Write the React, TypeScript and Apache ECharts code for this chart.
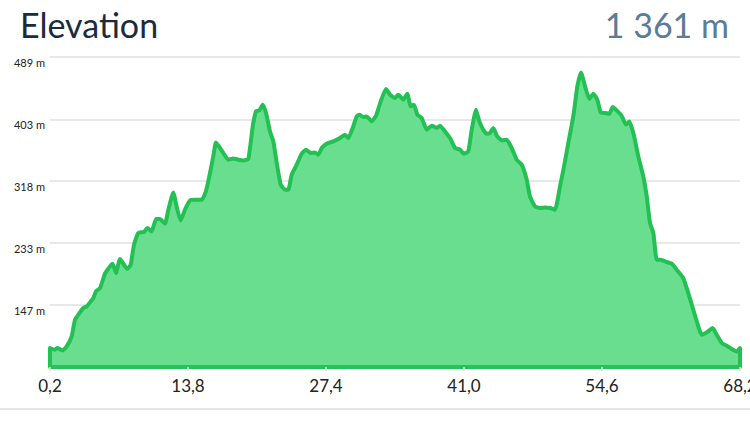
import React, { useEffect, useRef } from "react";
import * as echarts from "echarts";

const titleText = "Elevation";
const totalText = "1 361 m";

const distanceKm = [
  0.2, 0.2, 0.69, 0.92, 1.45, 1.85, 2.34, 2.66, 2.99, 3.48, 3.82, 4.14, 4.47, 4.73, 5.13, 5.62, 6.11, 6.38, 6.7, 7.1,
  7.82, 8.15, 8.48, 8.9, 9.46, 9.79, 10.22, 10.65, 11.04, 11.53, 11.86, 12.35, 12.75, 13.08, 13.5, 14.0, 14.49, 15.15,
  15.57, 15.97, 16.29, 16.56, 17.12, 17.77, 18.26, 18.76, 19.25, 19.74, 20.18, 20.5, 20.83, 21.16, 21.49, 21.88, 22.21,
  22.6, 22.94, 23.36, 23.68, 24.02, 24.51, 25.0, 25.43, 25.89, 26.32, 26.64, 26.98, 27.47, 28.12, 28.78, 29.27, 29.6,
  30.03, 30.43, 30.68, 31.08, 31.41, 31.9, 32.33, 32.79, 33.31, 33.71, 34.2, 34.53, 35.02, 35.41, 35.75, 36.07, 36.4,
  36.83, 37.32, 37.82, 38.31, 38.64, 39.13, 39.62, 40.11, 40.61, 41.0, 41.42, 41.76, 42.18, 42.51, 42.9, 43.24, 43.56,
  43.89, 44.28, 44.72, 45.21, 45.7, 46.19, 46.69, 47.18, 47.5, 48.0, 48.49, 48.98, 49.48, 49.97, 50.46, 50.86, 51.28,
  51.77, 52.17, 52.53, 52.93, 53.35, 53.74, 54.14, 54.47, 54.9, 55.32, 55.66, 56.05, 56.54, 56.97, 57.29, 57.69, 58.18,
  58.67, 59.01, 59.33, 59.66, 59.99, 60.39, 60.81, 61.47, 61.96, 62.61, 63.1, 63.6, 64.09, 64.42, 64.92, 65.51, 65.9,
  66.4, 66.89, 67.38, 67.88, 68.2, 68.2,
];

const elevationM = [
  61.5, 87.7, 85.4, 87.7, 84.4, 89.9, 103.7, 126.7, 133.6, 142.9, 145.1, 150.6, 156.7, 165.8, 170.4, 190.2, 200.2, 203.9,
  191.1, 210.4, 196.6, 202.6, 230.2, 246.3, 247.7, 253.2, 248.5, 265.6, 265.6, 259.1, 278.4, 302.3, 278.4, 263.7, 278.4,
  291.2, 292.2, 292.2, 303.7, 329.0, 351.9, 371.2, 360.2, 347.4, 349.2, 347.4, 346.4, 348.3, 393.3, 414.0, 415.4, 423.2,
  411.8, 386.4, 372.6, 338.1, 312.9, 306.0, 306.0, 326.7, 340.5, 355.6, 361.2, 356.6, 357.4, 354.3, 363.5, 369.4, 372.6,
  377.3, 381.8, 377.3, 391.1, 407.1, 409.4, 406.3, 407.1, 400.2, 408.0, 427.8, 444.9, 437.0, 432.4, 437.0, 430.1, 438.4,
  420.9, 423.2, 409.4, 404.9, 388.7, 394.3, 391.1, 394.3, 386.4, 377.3, 363.5, 361.2, 355.6, 358.8, 388.7, 416.3, 400.2,
  388.7, 383.2, 384.2, 391.1, 379.5, 374.0, 374.9, 363.5, 347.4, 340.5, 319.8, 296.8, 283.0, 280.8, 281.6, 280.8, 278.4,
  310.5, 338.1, 370.4, 407.1, 448.4, 467.7, 448.4, 431.1, 438.4, 430.1, 412.6, 411.8, 410.8, 420.0, 415.4, 408.0, 395.6,
  400.2, 384.2, 351.9, 324.3, 296.8, 260.1, 246.3, 209.5, 209.5, 207.1, 203.9, 195.7, 184.2, 163.5, 140.5, 117.5, 106.0,
  109.2, 115.3, 106.0, 94.6, 90.9, 86.3, 83.0, 87.7, 61.5,
];

const xTickValues = [0.2, 13.8, 27.4, 41.0, 54.6, 68.2];
const yTickValues = [147, 233, 318, 403, 489];
const yMin = 61.5;
const yMax = 489;
const xMin = 0.2;
const xMax = 68.2;

export default function App() {
  const ref = useRef<HTMLDivElement>(null);

  useEffect(() => {
    if (!ref.current) return;
    const chart = echarts.init(ref.current, null, { renderer: "svg" });
    const data = distanceKm.map((d, i) => [d, elevationM[i]]);
    chart.setOption({
      animation: false,
      backgroundColor: "#ffffff",
      textStyle: { fontFamily: "Lato" },
      title: [
        {
          text: titleText,
          left: 15,
          top: 2,
          textStyle: { fontFamily: "Lato", fontSize: 34, fontWeight: 400, color: "#1b2b3c" },
        },
        {
          text: totalText,
          right: 16,
          top: 2,
          textStyle: { fontFamily: "Lato", fontSize: 34, fontWeight: 400, color: "#5b7c96" },
        },
      ],
      grid: { left: 50, right: 10, top: 57, bottom: 77, outerBoundsMode: "none", containLabel: false },
      xAxis: {
        type: "value",
        min: xMin,
        max: xMax,
        z: 5,
        axisLine: { show: true, lineStyle: { color: "#27c25a", width: 4 } },
        axisTick: {
          show: true,
          customValues: xTickValues,
          length: 4,
          lineStyle: { color: "#e2e2e2", width: 1.5 },
        },
        axisLabel: {
          customValues: xTickValues,
          margin: 10,
          fontSize: 17,
          color: "#222222",
          fontFamily: "Lato",
          hideOverlap: false,
          formatter: (v: number) => v.toFixed(1).replace(".", ","),
        },
        splitLine: { show: false },
      },
      yAxis: {
        type: "value",
        min: yMin,
        max: yMax,
        axisLine: { show: false },
        axisTick: { show: false, customValues: yTickValues },
        axisLabel: {
          customValues: yTickValues,
          margin: 5,
          fontSize: 11,
          color: "#222222",
          fontFamily: "Lato",
          verticalAlign: "top",
          formatter: (v: number) => `${Math.round(v)} m`,
        },
        splitLine: { show: true, lineStyle: { color: "#e8e8e8", width: 2 } },
      },
      graphic: [
        {
          type: "line",
          shape: { x1: 0, y1: 409, x2: 750, y2: 409 },
          style: { stroke: "#e6e6e6", lineWidth: 2 },
        },
      ],
      series: [
        {
          type: "line",
          data,
          showSymbol: false,
          smooth: 0.15,
          lineStyle: { color: "#23c054", width: 4, join: "round" },
          areaStyle: { color: "#69de8f", opacity: 1 },
          z: 3,
        },
      ],
    });
    return () => chart.dispose();
  }, []);

  return (
    <div
      ref={ref}
      style={{ position: "absolute", left: 0, top: 0, width: 750, height: 444 }}
    />
  );
}
